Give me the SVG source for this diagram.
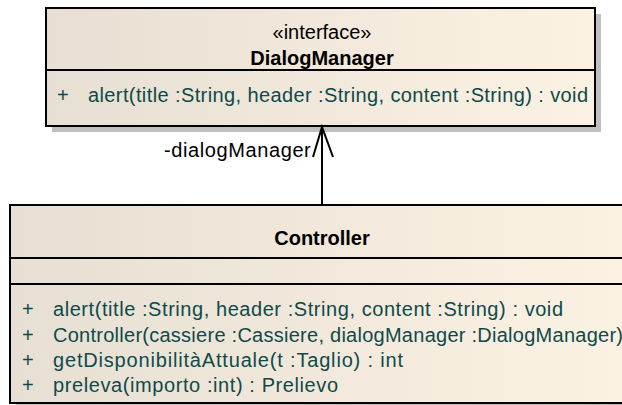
<svg xmlns="http://www.w3.org/2000/svg" width="622" height="405" viewBox="0 0 622 405">
  <defs>
    <linearGradient id="fillDM" gradientUnits="userSpaceOnUse" x1="46" y1="0" x2="595" y2="0">
      <stop offset="0" stop-color="#E7DFD3"/>
      <stop offset="1" stop-color="#FCF2E4"/>
    </linearGradient>
    <linearGradient id="fillCtrl" gradientUnits="userSpaceOnUse" x1="10" y1="0" x2="635" y2="0">
      <stop offset="0" stop-color="#E7DFD3"/>
      <stop offset="1" stop-color="#FCF2E4"/>
    </linearGradient>
    <style>
      .box { stroke: #000; stroke-width: 2; }
      .shadow { fill: #BFBFBF; }
      .div { stroke: #000; stroke-width: 2; }
      .hdr { font-family: "Liberation Sans", Arial, sans-serif; font-size: 20px; fill: #000; }
      .name { font-weight: bold; }
      .mem { font-family: "Liberation Sans", Arial, sans-serif; font-size: 20px; fill: #0F4A4A; }
      .lbl { font-family: "Liberation Sans", Arial, sans-serif; font-size: 20px; fill: #000; letter-spacing: 0.6px; }
      .edge { stroke: #000; stroke-width: 2; fill: none; }
    </style>
  </defs>

  <rect width="622" height="405" fill="#FFFFFF"/>

  <!-- interface DialogManager -->
  <g id="DialogManager">
    <rect class="shadow" x="52" y="14" width="549" height="118"/>
    <rect class="box" x="46" y="8" width="549" height="118" fill="url(#fillDM)"/>
    <text class="hdr" x="322" y="39" text-anchor="middle">«interface»</text>
    <text class="hdr name" x="322" y="65" text-anchor="middle">DialogManager</text>
    <line class="div" x1="46" y1="70" x2="595" y2="70"/>
    <text class="mem" x="57" y="102">+</text>
    <text class="mem" x="88" y="102" textLength="500" lengthAdjust="spacing">alert(title :String, header :String, content :String) : void</text>
  </g>

  <!-- class Controller -->
  <g id="Controller">
    <rect class="shadow" x="16" y="211" width="625" height="198"/>
    <rect class="box" x="10" y="205" width="625" height="198" fill="url(#fillCtrl)"/>
    <text class="hdr name" x="322" y="245" text-anchor="middle">Controller</text>
    <line class="div" x1="10" y1="258" x2="635" y2="258"/>
    <line class="div" x1="10" y1="284" x2="635" y2="284"/>
    <text class="mem" x="22" y="316">+</text>
    <text class="mem" x="53" y="316" textLength="510" lengthAdjust="spacing">alert(title :String, header :String, content :String) : void</text>
    <text class="mem" x="22" y="342">+</text>
    <text class="mem" x="53" y="342" textLength="570" lengthAdjust="spacing">Controller(cassiere :Cassiere, dialogManager :DialogManager)</text>
    <text class="mem" x="22" y="367">+</text>
    <text class="mem" x="53" y="367" textLength="350" lengthAdjust="spacing">getDisponibilitàAttuale(t :Taglio) : int</text>
    <text class="mem" x="22" y="392">+</text>
    <text class="mem" x="53" y="392" textLength="285" lengthAdjust="spacing">preleva(importo :int) : Prelievo</text>
  </g>

  <!-- directed association Controller -> DialogManager -->
  <g id="connectors">
    <line class="edge" x1="322" y1="205" x2="322" y2="127"/>
    <polyline class="edge" points="313,157 322,127 333,157"/>
    <text class="lbl" x="164" y="157">-dialogManager</text>
  </g>
</svg>
